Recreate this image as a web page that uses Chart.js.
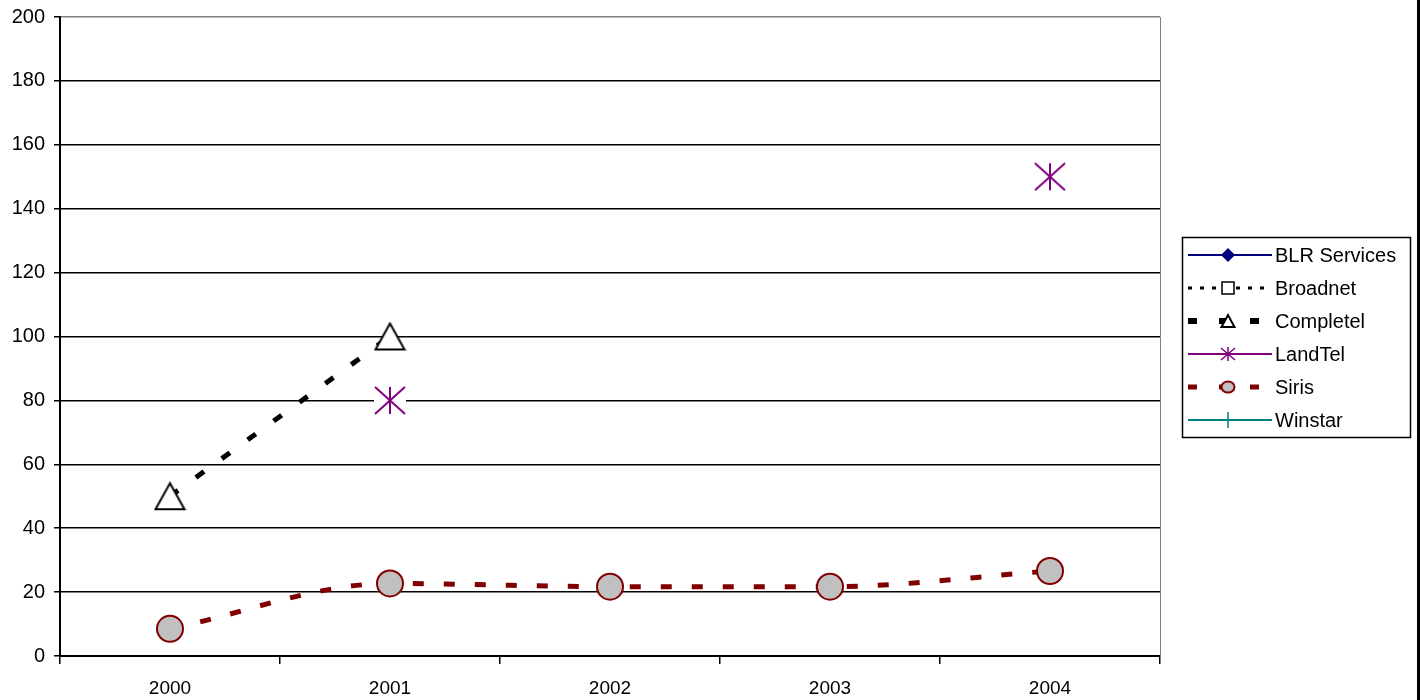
<!DOCTYPE html>
<html>
<head>
<meta charset="utf-8">
<script src="https://cdn.jsdelivr.net/npm/chart.js@4.4.1/dist/chart.umd.min.js"></script>
<style>
  html, body { margin: 0; padding: 0; background: #fff; }
  #wrap { position: relative; width: 1420px; height: 700px; }
</style>
</head>
<body>
<div id="wrap"><canvas id="chart" width="1420" height="700"></canvas></div>
<script>
// ── Data ─────────────────────────────────────────────
const YEARS = ['2000', '2001', '2002', '2003', '2004'];
const BLR_SERVICES = [null, null, null, null, null];
const BROADNET     = [null, null, null, null, null];
const COMPLETEL    = [50, 100, null, null, null];
const LANDTEL      = [null, 80, null, null, 150];
const SIRIS        = [8.5, 22.7, 21.7, 21.7, 26.6];
const WINSTAR      = [null, null, null, null, null];

const FONT = '"Liberation Sans", Arial, sans-serif';

// ── Marker images ────────────────────────────────────
function makeTriangle(w, h, lw) {
  const c = document.createElement('canvas');
  c.width = w + 4; c.height = h + 4;
  const g = c.getContext('2d');
  g.beginPath();
  g.moveTo(2, h + 2); g.lineTo(2 + w / 2, 2); g.lineTo(w + 2, h + 2); g.closePath();
  g.fillStyle = '#fff'; g.fill();
  g.lineWidth = lw; g.strokeStyle = '#000'; g.stroke();
  return c;
}

function makeStar(w, h, lw, bg) {
  const c = document.createElement('canvas');
  c.width = w + 2; c.height = h + 2;
  const g = c.getContext('2d');
  if (bg) { g.fillStyle = '#fff'; g.fillRect(0, 0, c.width, c.height); }
  g.strokeStyle = '#800080'; g.lineWidth = lw;
  g.beginPath();
  g.moveTo(1 + w / 2, 1); g.lineTo(1 + w / 2, h + 1);
  g.moveTo(1, 1); g.lineTo(w + 1, h + 1);
  g.moveTo(1, h + 1); g.lineTo(w + 1, 1);
  g.stroke();
  return c;
}

const TRI_BIG = makeTriangle(29, 26, 2);
const STAR_BIG = makeStar(30, 27, 2, true);

// ── Legend + frame plugin ────────────────────────────
const LEGEND_ROWS = [
  { label: 'BLR Services', color: '#000080', width: 2, dash: [], marker: 'diamond' },
  { label: 'Broadnet', color: '#000', width: 3, dash: [4, 8], marker: 'square' },
  { label: 'Completel', color: '#000', width: 6, dash: [9, 22], marker: 'triangle' },
  { label: 'LandTel', color: '#800080', width: 2, dash: [], marker: 'star' },
  { label: 'Siris', color: '#800000', width: 5, dash: [9, 22], marker: 'circle' },
  { label: 'Winstar', color: '#008080', width: 2, dash: [], marker: 'plus' },
];

function drawLegendMarker(g, kind, x, y) {
  g.save();
  g.setLineDash([]);
  g.lineWidth = 1.5;
  if (kind === 'diamond') {
    g.fillStyle = '#000080';
    g.beginPath();
    g.moveTo(x, y - 7); g.lineTo(x + 7, y); g.lineTo(x, y + 7); g.lineTo(x - 7, y); g.closePath();
    g.fill();
  } else if (kind === 'square') {
    g.fillStyle = '#fff'; g.strokeStyle = '#000';
    g.fillRect(x - 6, y - 6, 12, 12);
    g.strokeRect(x - 6, y - 6, 12, 12);
  } else if (kind === 'triangle') {
    g.fillStyle = '#fff'; g.strokeStyle = '#000'; g.lineWidth = 2;
    g.beginPath();
    g.moveTo(x - 6.5, y + 6); g.lineTo(x, y - 6); g.lineTo(x + 6.5, y + 6); g.closePath();
    g.fill(); g.stroke();
  } else if (kind === 'star') {
    g.strokeStyle = '#800080';
    g.beginPath();
    g.moveTo(x, y - 7); g.lineTo(x, y + 7);
    g.moveTo(x - 7, y - 6); g.lineTo(x + 7, y + 6);
    g.moveTo(x - 7, y + 6); g.lineTo(x + 7, y - 6);
    g.stroke();
  } else if (kind === 'circle') {
    g.fillStyle = '#C0C0C0'; g.strokeStyle = '#800000'; g.lineWidth = 2;
    g.beginPath();
    g.ellipse(x, y, 6.5, 5.5, 0, 0, Math.PI * 2);
    g.fill(); g.stroke();
  } else if (kind === 'plus') {
    g.strokeStyle = '#008080';
    g.beginPath();
    g.moveTo(x, y - 8); g.lineTo(x, y + 8);
    g.stroke();
  }
  g.restore();
}

const framePlugin = {
  id: 'frame',
  afterDraw(chart) {
    const g = chart.ctx;
    const a = chart.chartArea;
    g.save();
    // gray plot border on the right
    g.strokeStyle = '#808080'; g.lineWidth = 1;
    g.beginPath();
    g.moveTo(a.right + 0.5, a.top); g.lineTo(a.right + 0.5, a.bottom);
    g.stroke();

    // outer right edge
    g.fillStyle = '#000';
    g.fillRect(1417, 0, 3, 700);

    // legend box
    const bx = 1182, by = 237, bw = 228, bh = 200;
    g.fillStyle = '#fff';
    g.fillRect(bx, by, bw, bh);
    g.strokeStyle = '#000'; g.lineWidth = 1.5;
    g.strokeRect(bx + 0.5, by + 0.5, bw, bh);

    g.font = '20px ' + FONT;
    g.textBaseline = 'middle';
    g.textAlign = 'left';
    LEGEND_ROWS.forEach((r, i) => {
      const y = 255 + i * 33;
      g.save();
      g.beginPath();
      g.rect(1186, y - 8, 86, 16);
      g.clip();
      g.strokeStyle = r.color; g.lineWidth = r.width; g.setLineDash(r.dash);
      g.beginPath();
      g.moveTo(1188, y); g.lineTo(1272, y);
      g.stroke();
      g.restore();
      drawLegendMarker(g, r.marker, 1228, y);
      g.fillStyle = '#000';
      g.fillText(r.label, 1275, y + 1);
    });
    g.restore();
  },
};

// ── Chart ────────────────────────────────────────────
const ctx = document.getElementById('chart').getContext('2d');
new Chart(ctx, {
  type: 'line',
  data: {
    labels: YEARS,
    datasets: [
      { label: 'BLR Services', data: BLR_SERVICES, borderColor: '#000080', backgroundColor: '#000080', pointStyle: 'rectRot', pointRadius: 7, borderWidth: 2 },
      { label: 'Broadnet', data: BROADNET, borderColor: '#000', backgroundColor: '#fff', pointStyle: 'rect', pointRadius: 7, borderWidth: 3, borderDash: [4, 8] },
      { label: 'Completel', data: COMPLETEL, borderColor: '#000', backgroundColor: '#fff', pointStyle: TRI_BIG, borderWidth: 5, borderDash: [10, 22], borderCapStyle: 'butt' },
      { label: 'LandTel', data: LANDTEL, borderColor: '#800080', backgroundColor: '#800080', pointStyle: STAR_BIG, borderWidth: 2 },
      { label: 'Siris', data: SIRIS, borderColor: '#800000', backgroundColor: '#800000', pointStyle: 'circle', pointRadius: 13,
        pointBackgroundColor: '#C0C0C0', pointBorderColor: '#800000', pointBorderWidth: 2, borderWidth: 5, borderDash: [11, 20],
        cubicInterpolationMode: 'monotone' },
      { label: 'Winstar', data: WINSTAR, borderColor: '#008080', backgroundColor: '#008080', pointStyle: 'line', pointRadius: 8, borderWidth: 2 },
    ],
  },
  options: {
    responsive: false,
    animation: false,
    spanGaps: false,
    layout: { padding: { top: 17, right: 260, left: 0, bottom: 0 } },
    plugins: {
      legend: { display: false },
      tooltip: { enabled: false },
    },
    scales: {
      x: {
        offset: true,
        grid: { offset: true, drawOnChartArea: false, drawTicks: true, tickLength: 8, color: '#000', lineWidth: 1.5 },
        border: { color: '#000', width: 2 },
        ticks: { color: '#000', font: { family: FONT, size: 19 }, padding: 13, maxRotation: 0 },
        afterFit: s => { s.height = 44; },
      },
      y: {
        min: 0, max: 200,
        grid: {
          color: c => (c.tick && c.tick.value === 200 ? '#808080' : '#000'),
          tickColor: '#000', lineWidth: 1.5, tickLength: 6,
        },
        border: { color: '#000', width: 2 },
        ticks: { stepSize: 20, color: '#000', font: { family: FONT, size: 20 }, padding: 9 },
        afterFit: s => { s.width = 60; s.paddingTop = 0; s.paddingBottom = 0; },
      },
    },
  },
  plugins: [framePlugin],
});
</script>
</body>
</html>
